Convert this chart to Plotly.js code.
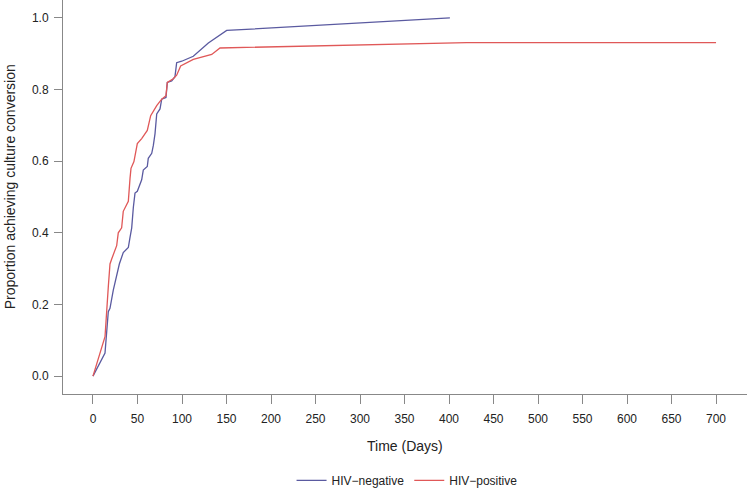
<!DOCTYPE html>
<html>
<head>
<meta charset="utf-8">
<script src="https://cdn.plot.ly/plotly-3.0.1.min.js"></script>
<style>html,body{margin:0;padding:0;background:#fff;}#chart{width:747px;height:495px;}</style>
</head>
<body>
<div id="chart"></div>
<script>
// HIV-negative
var negDays = [0, 13.5, 17.2, 19.1, 22.8, 26.6, 29.6, 34, 39.7, 41.6, 43.5, 45.3, 47.2, 49.8, 54.7, 56.5, 61, 62.1, 66, 67.8, 69.7, 71.6, 75.3, 77.2, 82, 83.5, 88.4, 92.1, 94, 99.7, 112.7, 129.6, 139, 150.2, 401];
var negProp = [0, 0.064, 0.18, 0.189, 0.24, 0.281, 0.313, 0.345, 0.359, 0.387, 0.414, 0.47, 0.511, 0.516, 0.548, 0.575, 0.585, 0.608, 0.622, 0.644, 0.677, 0.732, 0.746, 0.773, 0.778, 0.82, 0.824, 0.836, 0.875, 0.879, 0.893, 0.93, 0.947, 0.965, 1.0];
// HIV-positive
var posDays = [0, 13.5, 17.2, 19.1, 21, 24.7, 26.6, 28.4, 32.2, 34, 39.7, 41.6, 42.7, 46, 49.8, 54.7, 61, 64.8, 71.6, 77.2, 82, 83.5, 90.2, 94, 98.5, 112.7, 133.4, 142.7, 420, 700];
var posProp = [0, 0.11, 0.249, 0.313, 0.327, 0.35, 0.364, 0.4, 0.414, 0.46, 0.488, 0.552, 0.58, 0.599, 0.649, 0.663, 0.686, 0.727, 0.755, 0.773, 0.783, 0.82, 0.83, 0.84, 0.866, 0.884, 0.898, 0.916, 0.931, 0.931];

var xTicks = [0, 50, 100, 150, 200, 250, 300, 350, 400, 450, 500, 550, 600, 650, 700];
var yTicks = [0, 0.2, 0.4, 0.6, 0.8, 1.0];
var seriesNames = ["HIV\u2212negative", "HIV\u2212positive"];

var FONT = "Liberation Sans, Arial, Helvetica, sans-serif";
var traces = [
  {x: negDays, y: negProp, type: "scatter", mode: "lines", name: seriesNames[0],
   line: {color: "#5a5aa0", width: 1.3}},
  {x: posDays, y: posProp, type: "scatter", mode: "lines", name: seriesNames[1],
   line: {color: "#e05858", width: 1.3}}
];

var layout = {
  width: 747, height: 495,
  margin: {l: 63, r: 0, t: 0, b: 97, pad: 0},
  paper_bgcolor: "#fff", plot_bgcolor: "#fff",
  font: {family: FONT, size: 12, color: "#222"},
  showlegend: true,
  legend: {orientation: "h", x: 0.503, xanchor: "center", y: -0.219, yanchor: "middle",
           font: {family: FONT, size: 12, color: "#222"}, itemwidth: 30, bgcolor: "rgba(0,0,0,0)"},
  xaxis: {range: [-33.7, 734.8], showgrid: false, zeroline: false, showline: true,
          linecolor: "#888", linewidth: 1, ticks: "outside", ticklen: 9, tickcolor: "#888",
          ticklabelstandoff: 5,
          tickvals: xTicks, ticktext: xTicks.map(String), tickfont: {size: 12, color: "#222"}},
  yaxis: {range: [-0.05, 1.05], showgrid: false, zeroline: false, showline: true,
          linecolor: "#888", linewidth: 1, ticks: "outside", ticklen: 8, tickcolor: "#888",
          ticklabelstandoff: 3,
          tickvals: yTicks, ticktext: yTicks.map(function(v){return v.toFixed(1);}),
          tickfont: {size: 12, color: "#222"}},
  annotations: [
    {text: "Time (Days)", xref: "paper", yref: "paper", x: 0.5, y: -0.133,
     xanchor: "center", yanchor: "middle", showarrow: false, font: {size: 14, color: "#222"}},
    {text: "Proportion achieving culture conversion", xref: "paper", yref: "paper",
     x: -0.0775, y: 0.527, xanchor: "center", yanchor: "middle", textangle: -90,
     showarrow: false, font: {size: 14, color: "#222"}}
  ]
};

Plotly.newPlot("chart", traces, layout, {displayModeBar: false, staticPlot: true});
</script>
</body>
</html>
